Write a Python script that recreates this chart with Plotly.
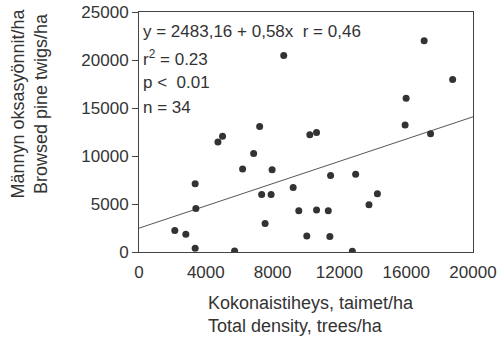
import plotly.graph_objects as go

density = [2144, 2805, 3363, 3405, 3363, 4727, 5003, 5724, 6204, 6865,
           7225, 7345, 7550, 7910, 7970, 9231, 9568, 10048, 10228, 10631,
           10631, 11333, 11429, 11471, 12775, 12973, 13772, 14276, 15934, 17459,
           8667, 17075, 18781, 15994]
browsed = [2235, 1857, 7104, 4544, 388, 11469, 12067, 105, 8636, 10252,
           13085, 5981, 2970, 5981, 8573, 6716, 4302, 1679, 12204, 12455,
           4376, 4302, 1605, 7975, 73, 8111, 4932, 6055, 13221, 12309,
           20462, 22004, 17975, 16023]

intercept = 2483.16
slope = 0.58
line_x = [0, 20000]
line_y = [intercept + slope * v for v in line_x]

xticks = [0, 4000, 8000, 12000, 16000, 20000]
yticks = [0, 5000, 10000, 15000, 20000, 25000]

FONT = "Liberation Sans, Arial, Helvetica, sans-serif"
INK = "#333333"

fig = go.Figure()
fig.add_trace(go.Scatter(x=line_x, y=line_y, mode="lines",
                         line=dict(color="#555555", width=1), hoverinfo="skip"))
fig.add_trace(go.Scatter(x=density, y=browsed, mode="markers",
                         marker=dict(color=INK, size=7, line=dict(width=0))))

L, R, T, B = 139, 26, 12, 92
W, H = 499, 344
pw, ph = W - L - R, H - T - B

def px(xp):
    return (xp - L) / pw

def py(yp):
    return (H - B - yp) / ph

annots = [
    dict(text="y = 2483,16 + 0,58x  r = 0,46", x=px(141), y=py(31)),
    dict(text="r<sup>2</sup> = 0.23", x=px(141), y=py(58)),
    dict(text="p <  0.01", x=px(141), y=py(83)),
    dict(text="n = 34", x=px(141), y=py(107)),
]
ann_list = []
for a in annots:
    ann_list.append(dict(text=a["text"], x=a["x"], y=a["y"], xref="paper", yref="paper",
                         xanchor="left", yanchor="middle", showarrow=False,
                         font=dict(family=FONT, size=17, color=INK)))
ann_list.append(dict(text="Männyn oksasyönnit/ha<br>Browsed pine twigs/ha",
                     x=px(28.5), y=py(103), xref="paper", yref="paper",
                     xanchor="center", yanchor="middle", textangle=-90, showarrow=False,
                     font=dict(family=FONT, size=18, color=INK)))
ann_list.append(dict(text="Kokonaistiheys, taimet/ha<br>Total density, trees/ha",
                     x=px(206), y=py(291), xref="paper", yref="paper",
                     xanchor="left", yanchor="top", align="left", showarrow=False,
                     font=dict(family=FONT, size=18, color=INK)))

fig.update_layout(
    width=W, height=H,
    margin=dict(l=L, r=R, t=T, b=B, autoexpand=False),
    paper_bgcolor="white", plot_bgcolor="white",
    showlegend=False,
    font=dict(family=FONT, size=17, color=INK),
    annotations=ann_list,
)
fig.update_xaxes(range=[0, 20000], tickvals=xticks, ticktext=[str(v) for v in xticks],
                 showgrid=False, zeroline=False, showline=True, linecolor="#444444",
                 linewidth=1, mirror=True, ticks="", automargin=False,
                 ticklabelstandoff=5, tickfont=dict(size=17, color=INK))
fig.update_yaxes(range=[0, 25000], tickvals=yticks, ticktext=[str(v) for v in yticks],
                 showgrid=False, zeroline=False, showline=True, linecolor="#444444",
                 linewidth=1, mirror=True, ticks="outside", ticklen=6, tickcolor="#444444",
                 automargin=False, tickfont=dict(size=17, color=INK))

fig.write_html("out.html", config={"displayModeBar": False},
               post_script="document.body.style.margin='0';")
